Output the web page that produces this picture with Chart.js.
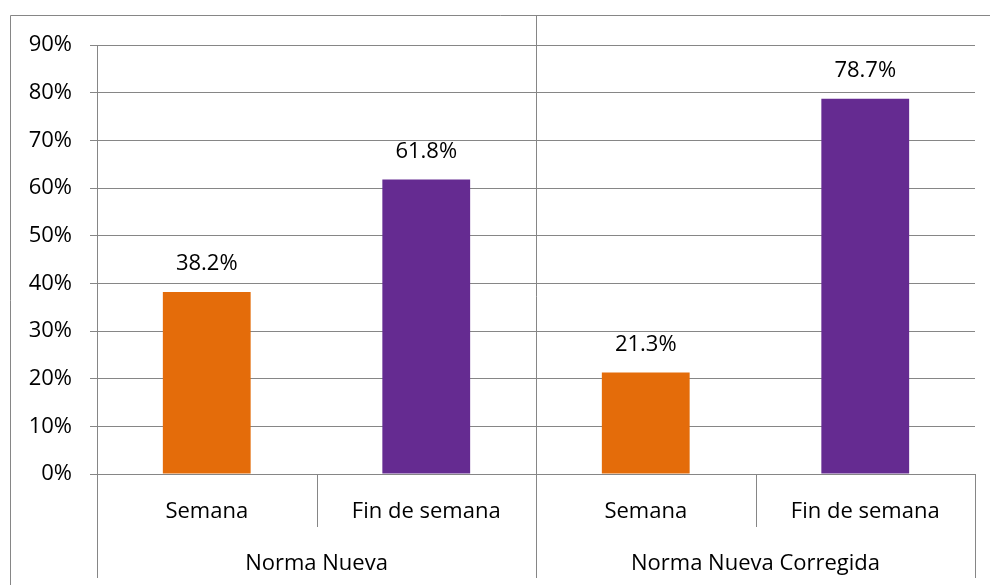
<!DOCTYPE html>
<html>
<head>
<meta charset="utf-8">
<script src="https://cdn.jsdelivr.net/npm/chart.js@4.4.1/dist/chart.umd.min.js"></script>
<style>
    html, body { margin: 0; padding: 0; background: #ffffff; }
    canvas { display: block; }
</style>
</head>
<body>
<canvas id="normaChart" width="990" height="585"></canvas>
<script>
//! Data
const categories = ["Semana", "Fin de semana", "Semana", "Fin de semana"];
const groups = ["Norma Nueva", "Norma Nueva Corregida"];
const values = [38.2, 61.8, 21.3, 78.7];
const barColors = ["#E46C0A", "#652B91", "#E46C0A", "#652B91"];
const yTicks = [0, 10, 20, 30, 40, 50, 60, 70, 80, 90];

const lineColor = "#868686";
const textFont = { family: "'Open Sans', sans-serif", size: 22 };

//! Outer frame, group separators and axis extensions
const framePlugin = {
    id: "frame",
    afterDraw(chart) {
        const ctx = chart.ctx;
        const xs = chart.scales.x;
        const xg = chart.scales.x2;
        const area = chart.chartArea;
        const frameLeft = 10.5, frameTop = 15.5;
        ctx.save();
        ctx.strokeStyle = lineColor;
        ctx.lineWidth = 1;
        ctx.beginPath();
        ctx.moveTo(frameLeft, chart.height);
        ctx.lineTo(frameLeft, frameTop);
        ctx.lineTo(chart.width, frameTop);

        const n = categories.length;
        const step = (xs.right - xs.left) / n;
        for (let i = 0; i <= n; i++) {
            const x = Math.round(xs.left + i * step) + 0.5;
            const isGroupEdge = i % 2 === 0;
            const top = (i === n / 2) ? frameTop : area.bottom;
            const bottom = isGroupEdge ? xg.bottom : xs.bottom;
            ctx.moveTo(x, top);
            ctx.lineTo(x, bottom);
        }
        ctx.stroke();
        ctx.restore();
    }
};

//! Value labels above bars
const valueLabels = {
    id: "valueLabels",
    afterDatasetsDraw(chart) {
        const ctx = chart.ctx;
        const meta = chart.getDatasetMeta(0);
        ctx.save();
        ctx.font = textFont.size + "px " + textFont.family;
        ctx.fillStyle = "#000000";
        ctx.textAlign = "center";
        ctx.textBaseline = "middle";
        meta.data.forEach((bar, i) => {
            ctx.fillText(values[i].toFixed(1) + "%", bar.x, bar.y - 28);
        });
        ctx.restore();
    }
};

const ctx = document.getElementById("normaChart").getContext("2d");
new Chart(ctx, {
    type: "bar",
    data: {
        labels: categories,
        datasets: [{
            data: values,
            backgroundColor: barColors,
            borderWidth: 0,
            barPercentage: 0.4,
            categoryPercentage: 1
        }]
    },
    options: {
        responsive: false,
        animation: false,
        layout: { padding: { left: 0, top: 45, right: 15, bottom: 7 } },
        plugins: {
            legend: { display: false },
            tooltip: { enabled: false }
        },
        scales: {
            y: {
                min: 0,
                max: 90,
                afterBuildTicks: (scale) => {
                    scale.ticks = yTicks.map(v => ({ value: v }));
                },
                afterFit: (scale) => { scale.width = 97; },
                ticks: {
                    callback: (v) => v + "%",
                    color: "#000000",
                    font: textFont,
                    padding: 18
                },
                grid: {
                    color: lineColor,
                    lineWidth: 1,
                    tickLength: 7,
                    tickColor: lineColor
                },
                border: { display: true, color: lineColor, width: 1 }
            },
            x: {
                weight: 0,
                afterFit: (scale) => { scale.height = 53; },
                grid: { display: false, drawTicks: false },
                border: { display: false },
                ticks: {
                    color: "#000000",
                    font: textFont,
                    padding: 25,
                    maxRotation: 0,
                    autoSkip: false
                }
            },
            x2: {
                type: "category",
                labels: groups,
                position: "bottom",
                offset: true,
                weight: 1,
                afterFit: (scale) => { scale.height = 51; },
                grid: { display: false, drawTicks: false },
                border: { display: false },
                ticks: {
                    color: "#000000",
                    font: textFont,
                    padding: 24,
                    maxRotation: 0,
                    autoSkip: false
                }
            }
        }
    },
    plugins: [framePlugin, valueLabels]
});
</script>
</body>
</html>
